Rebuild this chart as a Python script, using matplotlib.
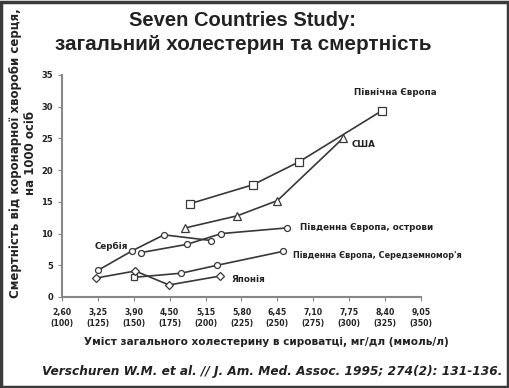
import matplotlib.pyplot as plt
from matplotlib.patches import Rectangle

# cholesterol, mg/dl
tick_mg = [100, 125, 150, 175, 200, 225, 250, 275, 300, 325, 350]
tick_mmol = ['2,60', '3,25', '3,90', '4,50', '5,15', '5,80', '6,45', '7,10', '7,75', '8,40', '9,05']

north_x = [189, 233, 265, 323]
north_y = [14.7, 17.7, 21.3, 29.4]
usa_x = [186, 222, 250, 296]
usa_y = [10.9, 12.8, 15.2, 25.1]
islands_x = [155, 187, 211, 257]
islands_y = [7.0, 8.3, 10.0, 10.9]
serbia_x = [125, 149, 171, 204]
serbia_y = [4.2, 7.3, 9.8, 8.9]
med_x = [150, 183, 208, 254]
med_y = [3.1, 3.75, 5.0, 7.2]
japan_x = [124, 151, 174.5, 210]
japan_y = [3.0, 4.1, 1.9, 3.3]

W, H = 510, 388
fig = plt.figure(figsize=(W / 100, H / 100), dpi=100)
fig.patch.set_facecolor('white')
fig.patches.append(Rectangle((0.002, 0.003), 0.994, 0.993, transform=fig.transFigure,
                             fill=False, edgecolor='#3a3a3a', linewidth=2.5))

ax = fig.add_axes([62 / W, 1 - 297 / H, (421 - 62) / W, (297 - 75) / H])
ax.set_xlim(100, 350)
ax.set_ylim(0, 35)

lc = '#383838'
kw = dict(color=lc, linewidth=1.2, markerfacecolor='white', markeredgecolor=lc,
          markeredgewidth=0.9, clip_on=False)
ax.plot(north_x, north_y, marker='s', markersize=5.3, **kw)
ax.plot(usa_x, usa_y, marker='^', markersize=5.3, **kw)
ax.plot(islands_x, islands_y, marker='o', markersize=4.3, **kw)
ax.plot(serbia_x, serbia_y, marker='o', markersize=4.3, **kw)
ax.plot(med_x, med_y, marker='o', markersize=4.3, **kw)
ax.plot(med_x[:1], med_y[:1], marker='s', markersize=4.8, linestyle='none', **kw)
ax.plot(japan_x, japan_y, marker='D', markersize=4.0, **kw)

lab = dict(fontsize=6.3, fontweight='bold', color='#222222', va='center')
ax.text(303, 32.2, 'Північна Європа', **lab)
ax.text(302, 24.0, 'США', **lab)
ax.text(266, 10.9, 'Південна Європа, острови', **lab)
ax.text(261, 6.6, "Південна Європа, Середземномор'я", va='center',
        fontsize=5.9, fontweight='bold', color='#222222')
ax.text(122.4, 8.0, 'Сербія', **lab)
ax.text(218, 2.7, 'Японія', **lab)

ax.set_xticks(tick_mg)
ax.set_xticklabels([f'{a}\n({b})' for a, b in zip(tick_mmol, tick_mg)],
                   fontsize=5.6, fontweight='bold', color='#222222', linespacing=1.2)
ax.set_yticks(range(0, 36, 5))
ax.tick_params(axis='y', labelsize=6, colors='#222222', length=3, color='#888888')
ax.tick_params(axis='x', length=3, color='#888888', pad=5)
for t in ax.get_yticklabels():
    t.set_fontweight('bold')
for s in ['top', 'right']:
    ax.spines[s].set_visible(False)
for s in ['left', 'bottom']:
    ax.spines[s].set_color('#888888')
    ax.spines[s].set_linewidth(1.5)

fig.text(243 / W, 1 - 20 / H, 'Seven Countries Study:', ha='center', va='center',
         fontsize=14.5, fontweight='bold', family='Liberation Sans', color='#222222')
fig.text(243 / W, 1 - 45 / H, 'загальний холестерин та смертність', ha='center', va='center',
         fontsize=14.9, fontweight='bold', family='Liberation Sans', color='#222222')

fig.text(16 / W, 1 - 153 / H, 'Смертність від коронарної хвороби серця,', rotation=90,
         ha='center', va='center', fontsize=8.5, fontweight='bold', color='#222222')
fig.text(31 / W, 1 - 153 / H, 'на 1000 осіб', rotation=90,
         ha='center', va='center', fontsize=8.5, fontweight='bold', color='#222222')

fig.text(266 / W, 1 - 342 / H, 'Уміст загального холестерину в сироватці, мг/дл (ммоль/л)',
         ha='center', va='center', fontsize=7.6, fontweight='bold', color='#222222')
fig.text(272 / W, 1 - 372 / H, 'Verschuren W.M. et al. // J. Am. Med. Assoc. 1995; 274(2): 131-136.',
         ha='center', va='center', fontsize=8.7, fontweight='bold', style='italic', color='#222222')

fig.savefig('out.png', dpi=100)
